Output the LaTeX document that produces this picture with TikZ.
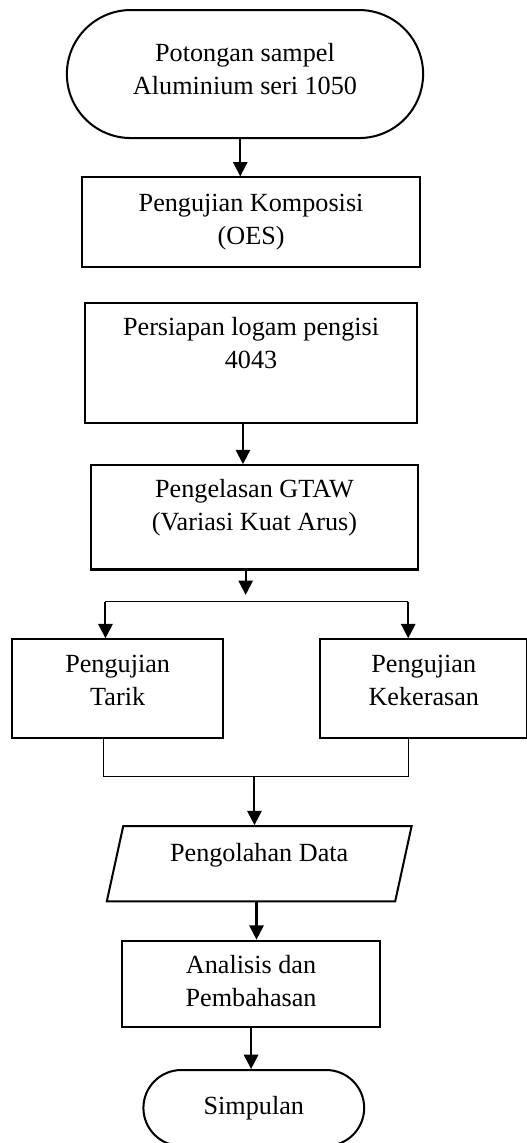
\documentclass[tikz,border=0pt]{standalone}
\usepackage{fontspec}
\setmainfont{Liberation Serif}
\usepackage{tikz}
\usetikzlibrary{
  arrows.meta,
  positioning,
  calc,
  shapes.geometric,
  shapes.misc
}
\tikzset{
  flowterm/.style={
    draw=black,
    rounded rectangle,
    line width=0.85pt,
    align=center,
    font=\fontsize{11}{13.9}\selectfont,
    inner sep=2pt
  },
  flowbox/.style={
    draw=black,
    rectangle,
    line width=0.85pt,
    align=center,
    font=\fontsize{11}{13.9}\selectfont,
    inner sep=2pt
  },
  flowdata/.style={
    draw=black,
    trapezium,
    trapezium left angle=72,
    trapezium right angle=108,
    trapezium stretches body,
    line width=0.85pt,
    align=center,
    font=\fontsize{11}{13.9}\selectfont,
    inner sep=2pt
  },
  flowarrow/.style={
    -{Triangle[length=6pt,width=6pt]},
    line width=0.85pt
  },
  flowline/.style={line width=0.42pt}
}

\begin{document}
\begin{tikzpicture}
  \useasboundingbox (0,0) rectangle (7.766,-16.875);
  \node[flowterm, minimum width=5.40cm, minimum height=1.89cm] (start) at (3.617,-1.093)
    {Potongan sampel\\Aluminium seri 1050\\[-9.3pt]\mbox{}};
  \node[flowbox, below=0.55cm of start, xshift=0.09cm, minimum width=4.99cm, minimum height=1.33cm] (komp)
    {Pengujian Komposisi\\(OES)};
  \node[flowbox, below=0.50cm of komp, minimum width=4.90cm, minimum height=1.77cm] (logam)
    {Persiapan logam pengisi\\4043\\[2.9pt]\mbox{}};
  \node[flowbox, below=0.59cm of logam, xshift=0.05cm, minimum width=4.83cm, minimum height=1.54cm] (gtaw)
    {Pengelasan GTAW\\(Variasi Kuat Arus)\\[-3.55pt]\mbox{}};
  \node[flowbox, below=1.00cm of gtaw, xshift=-2.02cm, minimum width=3.12cm, minimum height=1.46cm] (tarik)
    {Pengujian\\Tarik\\[-7.1pt]\mbox{}};
  \node[flowbox, right=1.40cm of tarik, minimum width=3.06cm, minimum height=1.46cm] (keras)
    {Pengujian\\Kekerasan\\[-7.1pt]\mbox{}};
  \coordinate (split) at ($(gtaw.south)+(-0.13,-0.46)$);
  \coordinate (merge) at ($(tarik.south)+(2.02,-0.55)$);
  \node[flowdata, below=0.72cm of merge, xshift=0.07cm, minimum width=4.50cm, minimum height=1.11cm,
    text depth=9.6pt] (data) {Pengolahan Data};
  \node[flowbox, below=0.55cm of data, xshift=-0.12cm, minimum width=3.82cm, minimum height=1.28cm] (anal)
    {Analisis dan\\Pembahasan\\[-11.3pt]\mbox{}};
  \node[flowterm, below=0.60cm of anal, xshift=0.04cm, minimum width=3.40cm, minimum height=1.12cm] (simp)
    {Simpulan};

  \draw[flowarrow] ([xshift=-0.07cm]start.south) -- ([xshift=-0.07cm]start.south |- komp.north);
  \draw[flowarrow] ([xshift=-0.12cm]logam.south) -- ([xshift=-0.12cm]logam.south |- gtaw.north);
  \draw[flowarrow] ([xshift=-0.13cm]gtaw.south) -- ($(split)+(0,0.1)$);
  \draw[flowline] ([xshift=-0.18cm]tarik.north |- split) -- ([xshift=-0.23cm]keras.north |- split);
  \draw[flowarrow] ([xshift=-0.18cm]tarik.north |- split) -- ([xshift=-0.18cm]tarik.north);
  \draw[flowarrow] ([xshift=-0.23cm]keras.north |- split) -- ([xshift=-0.23cm]keras.north);
  \draw[flowline] ([xshift=-0.21cm]tarik.south) -- ([xshift=-0.21cm]tarik.south |- merge)
    -- ([xshift=-0.23cm]keras.south |- merge) -- ([xshift=-0.23cm]keras.south);
  \draw[flowarrow] (merge) -- (merge |- data.north);
  \draw[flowarrow] ([xshift=-0.04cm]data.south) -- ([xshift=-0.04cm]data.south |- anal.north);
  \draw[flowarrow] (anal.south) -- (anal.south |- simp.north);
\end{tikzpicture}
\end{document}
